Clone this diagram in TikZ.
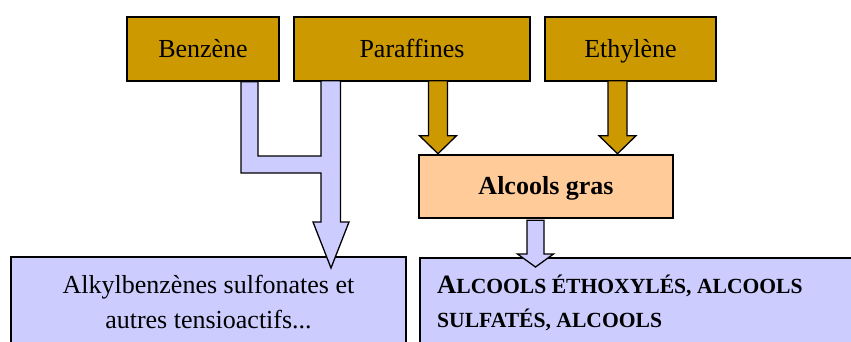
\documentclass[tikz,border=0pt]{standalone}
\usepackage{fontspec}
\setmainfont{Liberation Serif}
\usetikzlibrary{calc}
\definecolor{gold}{HTML}{CC9900}
\definecolor{peach}{HTML}{FFCC99}
\definecolor{lblue}{HTML}{CCCCFF}
\tikzset{
  srcbox/.style={draw=black, line width=1.4pt, fill=gold, minimum height=64pt, inner sep=0pt,
    font=\fontsize{26}{30}\selectfont, text height=18pt, text depth=0pt},
  grasbox/.style={draw=black, line width=2.6pt, fill=peach, minimum width=254pt, minimum height=63pt,
    inner sep=0pt, font=\bfseries\fontsize{26}{30}\selectfont, text height=16pt, text depth=0pt},
  prodbox/.style={draw=black, line width=1.3pt, fill=lblue, inner sep=0pt},
  fatgold/.style={draw=black, line width=1.3pt, fill=gold, line join=miter},
  fatblue/.style={draw=black, line width=1.3pt, fill=lblue, line join=miter},
  lbl/.style={inner sep=0pt, font=\fontsize{26}{35}\selectfont}
}
\begin{document}
\begin{tikzpicture}[x=1pt,y=-1pt]
\useasboundingbox (0,0) rectangle (851,342);
\begin{scope}
\clip (0,0) rectangle (851,342);
% source boxes
\node[srcbox, minimum width=152pt] (benz) at (203,49) {Benzène};
\node[srcbox, minimum width=236pt] (para) at (412,49) {Paraffines};
\node[srcbox, minimum width=171pt] (ethy) at (630.5,49) {Ethylène};
% intermediate
\node[grasbox] (gras) at (546,186.5) {Alcools gras};
% product boxes
\node[prodbox, minimum width=395pt, minimum height=110pt] (alkyl) at (208.5,312) {};
\node[prodbox, minimum width=440pt, minimum height=110pt] (alco) at (640,313) {};
\node[lbl, align=center, anchor=base] (alkyltxt) at (208.5,328)
  {Alkylbenzènes sulfonates et\\autres tensioactifs...};
\node[lbl, align=left, anchor=base west, font=\bfseries\fontsize{21.6}{34}\selectfont] (alcotxt) at (437,327)
  {{\fontsize{26.5}{34}\selectfont A}LCOOLS ÉTHOXYLÉS, ALCOOLS\\SULFATÉS, ALCOOLS};
% arrows from Paraffines and Ethylene
\coordinate (pa) at (438,0 |- para.south);
\coordinate (ea) at (617.5,0 |- ethy.south);
\draw[fatgold] ($(pa)+(-9.5,-1)$) -- ($(pa |- gras.north)+(-9.5,-18)$) -- ($(pa |- gras.north)+(-18.5,-18)$)
  -- (pa |- gras.north) -- ($(pa |- gras.north)+(18.5,-18)$) -- ($(pa |- gras.north)+(9.5,-18)$)
  -- ($(pa)+(9.5,-1)$) -- cycle;
\draw[fatgold] ($(ea)+(-9.5,-1)$) -- ($(ea |- gras.north)+(-9.5,-18)$) -- ($(ea |- gras.north)+(-18.5,-18)$)
  -- (ea |- gras.north) -- ($(ea |- gras.north)+(18.5,-18)$) -- ($(ea |- gras.north)+(9.5,-18)$)
  -- ($(ea)+(9.5,-1)$) -- cycle;
% arrow from Alcools gras
\coordinate (ga) at (535.5,0 |- gras.south);
\coordinate (gt) at (535.5,267);
\draw[fatblue] ($(ga)+(-8.5,1)$) -- ($(gt)+(-8.5,-13)$) -- ($(gt)+(-18,-13)$) -- (gt)
  -- ($(gt)+(18,-13)$) -- ($(gt)+(8.5,-13)$) -- ($(ga)+(8.5,1)$) -- cycle;
% merged connector Benzene + Paraffines
\coordinate (bt) at (331,268);
\draw[fatblue] (241,0 |- benz.south) -- (241,173) -- (321,173) -- (321,222) -- (313,222) -- (bt)
  -- (349,222) -- (340.5,222) -- ($(340.5,0 |- para.south)+(0,-1)$) -- ($(321,0 |- para.south)+(0,-1)$)
  -- (321,156) -- (258,156) -- (258,0 |- benz.south) -- cycle;
\end{scope}
\end{tikzpicture}
\end{document}
